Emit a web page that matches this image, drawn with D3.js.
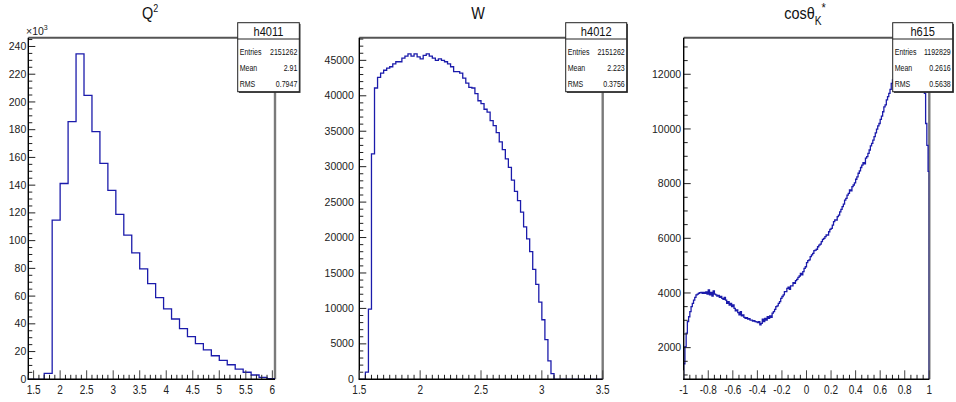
<!DOCTYPE html>
<html><head><meta charset="utf-8">
<script src="https://cdn.jsdelivr.net/npm/d3@7"></script>
<style>body{margin:0;background:#fff}svg{display:block}</style>
</head><body>
<svg id="c" width="956" height="402"></svg>
<script>
// ---------- DATA ----------
// Q^2 histogram (bins of 0.15 starting at 1.4)
const q2Low = 1.4, q2BinWidth = 0.15;
const q2Counts = [0,0,4300,114800,141200,185800,234600,204800,178600,155700,136200,118900,104000,91200,79600,69000,58900,50800,43500,36500,30800,25700,21200,17000,13700,10500,7400,5100,3100,1400,400];
const q2Stats = {name:"h4011", entries:"2151262", mean:"2.91", rms:"0.7947"};

// W histogram (bins of 0.025 starting at 1.5)
const wLow = 1.5, wBinWidth = 0.025;
const wCounts = [0,0,
 1000,9900,31800,41100,42600,43200,43600,43900,44100,44500,44800,44800,45300,45600,45900,45600,45900,45500,45200,45700,
 45900,45600,45300,45000,45200,45000,44800,44500,44100,43400,43400,43200,42500,41800,41200,41100,40300,39300,38900,38100,
 37700,36500,35800,34800,33500,32400,31100,29900,28100,26500,25200,23600,21500,19800,18000,15500,13400,10900,8400,5600,
 2600,800,
 0,0,0,0,0,0,0,0,0,0,0,0,0,0,0,0];
const wStats = {name:"h4012", entries:"2151262", mean:"2.223", rms:"0.3756"};

// cos(theta_K*) histogram (bins of 0.01 starting at -1)
const cosLow = -1, cosBinWidth = 0.01;
const cosCounts = [
 1410,2040,2530,2950,3130,3320,3500,3620,3740,3840,
 3930,3960,3990,4010,4020,3990,4020,3990,4040,3960,
 4110,3930,4020,3890,4080,3960,3930,3890,3910,3840,
 3870,3800,3770,3840,3740,3620,3680,3560,3620,3500,
 3560,3440,3350,3380,3280,3200,3320,3160,3200,3110,
 3070,3100,3040,3060,3010,3010,2970,2990,2950,2940,
 2920,2950,2830,2890,3040,2950,3070,3010,3130,3070,
 3160,3110,3260,3320,3400,3500,3530,3620,3680,3800,
 3870,3930,4050,4050,4170,4210,4130,4260,4260,4380,
 4350,4450,4500,4570,4620,4720,4660,4780,4900,4960,
 5110,5180,5210,5330,5390,5450,5550,5570,5600,5690,
 5750,5790,5880,5960,6000,6060,6120,6120,6240,6330,
 6360,6480,6610,6670,6670,6790,6850,6970,7060,7160,
 7250,7400,7460,7580,7640,7770,7740,7890,7950,8030,
 8160,8250,8380,8470,8590,8680,8770,8720,8930,8990,
 9110,9230,9380,9470,9590,9720,9860,9990,10110,10200,
 10350,10470,10630,10810,10880,11060,11180,11300,11450,11670,
 11790,11900,12000,12100,12150,12200,12300,12350,12400,12450,
 12500,12550,12600,12600,12650,12700,12720,12770,12720,12700,
 12650,12600,12500,12300,12000,11700,11300,10200,9400,8450];
const cosStats = {name:"h615", entries:"1192829", mean:"0.2616", rms:"0.5638"};

// tick labels
const q2XTicks = [1.5,2,2.5,3,3.5,4,4.5,5,5.5,6];
const wXTicks = [1.5,2,2.5,3,3.5];
const cosXTicks = [-1,-0.8,-0.6,-0.4,-0.2,0,0.2,0.4,0.6,0.8,1];

// ---------- DRAWING ----------
const svg = d3.select("#c");
const SANS = "'Liberation Sans',Arial,Helvetica,sans-serif";
const LINE = "#1b1bab";

function fmt(v){ return String(+v.toFixed(3)); }
// condensed text helper (horizontal squeeze like Helvetica-Narrow)
function ntext(g, x, y, str, size, anchor, sx, fill){
  return g.append("text")
    .attr("transform", `translate(${x},${y}) scale(${sx},1)`)
    .attr("text-anchor", anchor || "start")
    .attr("font-family", SANS).attr("font-size", size)
    .attr("fill", fill || "#222").text(str);
}

const panels = [
 {id:0, counts:q2Counts, low:q2Low, bw:q2BinWidth, xDomain:[1.4,6.05], xTicks:q2XTicks, xMinor:0.1,
  yMajor:20000, yMinor:5000, yLabel:v=>fmt(v/1000), yMode:"zero",
  L:28.3, R:275, T:37.7, B:379.3, yGap:2, stats:q2Stats, box:[237.7,22.7,61.6,69], title:"Q2", tx:150},
 {id:1, counts:wCounts, low:wLow, bw:wBinWidth, xDomain:[1.5,3.5], xTicks:wXTicks, xMinor:0.05,
  yMajor:5000, yMinor:1000, yLabel:v=>fmt(v), yMode:"zero",
  L:359.3, R:602.7, T:37.7, B:379.3, yGap:5.5, stats:wStats, box:[565.7,22.7,61,69], title:"W", tx:478},
 {id:2, counts:cosCounts, low:cosLow, bw:cosBinWidth, xDomain:[-1,1], xTicks:cosXTicks, xMinor:0.05,
  yMajor:2000, yMinor:500, yLabel:v=>fmt(v), yMode:"range",
  L:683.7, R:929.3, T:37.7, B:379.3, yGap:2.5, stats:cosStats, box:[892.7,22.7,60,69], title:"cos", tx:805}
];

panels.forEach(p => {
  const g = svg.append("g");
  const x = d3.scaleLinear().domain(p.xDomain).range([p.L, p.R]);
  const mx = d3.max(p.counts), mn = d3.min(p.counts);
  let yd;
  if (p.yMode === "zero") yd = [0, mx*1.05];
  else { const r = mx - mn; yd = [mn - 0.05*r, mx + 0.05*r]; }
  const y = d3.scaleLinear().domain(yd).range([p.B, p.T]);

  // frame top & right
  g.append("line").attr("x1",p.L).attr("x2",p.R).attr("y1",p.T).attr("y2",p.T)
    .attr("stroke","#555").attr("stroke-width",2);
  g.append("line").attr("x1",p.R).attr("x2",p.R).attr("y1",p.T).attr("y2",p.B)
    .attr("stroke","#7a7a7a").attr("stroke-width",2.4);

  // histogram
  const cid = "clip"+p.id;
  svg.append("clipPath").attr("id",cid).append("rect")
    .attr("x",p.L).attr("y",p.T).attr("width",p.R-p.L).attr("height",p.B-p.T);
  const pts = [];
  const base = Math.max(0, yd[0]);
  pts.push([x(p.low), y(base)]);
  p.counts.forEach((c,i) => {
    const a = p.low + i*p.bw, b = p.low + (i+1)*p.bw;
    pts.push([x(a), y(c)]); pts.push([x(b), y(c)]);
  });
  pts.push([x(p.low + p.counts.length*p.bw), y(base)]);
  g.append("path").attr("clip-path",`url(#${cid})`)
    .attr("d", d3.line()(pts)).attr("fill","none")
    .attr("stroke",LINE).attr("stroke-width",1.3).attr("stroke-linejoin","miter");

  // y axis
  const yMinT = d3.range(Math.ceil(yd[0]/p.yMinor-1e-9)*p.yMinor, yd[1]+1e-6, p.yMinor);
  yMinT.forEach(v => {
    const major = Math.abs(v/p.yMajor - Math.round(v/p.yMajor)) < 1e-6;
    g.append("line").attr("x1",p.L).attr("x2",p.L+(major?7:4))
      .attr("y1",y(v)).attr("y2",y(v)).attr("stroke","#222").attr("stroke-width",1);
    if (major) g.append("text").attr("x",p.L-p.yGap).attr("y",y(v)+3.6)
      .attr("text-anchor","end").attr("font-family",SANS).attr("font-size",10.5)
      .attr("fill","#222").text(p.yLabel(v));
  });
  g.append("line").attr("x1",p.L).attr("x2",p.L).attr("y1",p.T).attr("y2",p.B+0.5)
    .attr("stroke","#000").attr("stroke-width",1.4);

  // x axis
  const xMinT = d3.range(Math.ceil(p.xDomain[0]/p.xMinor-1e-9)*p.xMinor, p.xDomain[1]+1e-9, p.xMinor);
  xMinT.forEach(v => {
    const major = p.xTicks.some(t => Math.abs(t-v) < 1e-6);
    g.append("line").attr("x1",x(v)).attr("x2",x(v)).attr("y1",p.B).attr("y2",p.B-(major?9:4.5))
      .attr("stroke", major?"#444":"#222").attr("stroke-width",1);
  });
  p.xTicks.forEach(v => {
    ntext(g, x(v), 393.5, fmt(v), 12.5, "middle", 0.8);
  });
  g.append("line").attr("x1",p.L-0.5).attr("x2",p.R).attr("y1",p.B).attr("y2",p.B)
    .attr("stroke","#000").attr("stroke-width",1.4);

  // title
  const t = g.append("text")
    .attr("transform",`translate(${p.tx},18.5) scale(0.85,1)`)
    .attr("text-anchor","middle")
    .attr("font-family",SANS).attr("font-size",17).attr("fill","#111");
  if (p.title === "Q2") {
    t.append("tspan").text("Q");
    t.append("tspan").attr("dy",-7).attr("font-size",10.5).text("2");
  } else if (p.title === "W") {
    t.text("W");
  } else {
    t.append("tspan").text("cos\u03B8");
    t.append("tspan").attr("dy",6).attr("font-size",12).text("K");
    t.append("tspan").attr("dy",-13).attr("font-size",13).text("*");
  }

  // stats box
  const [bx,by,bw,bh] = p.box;
  g.append("rect").attr("x",bx+1.2).attr("y",by+1.2).attr("width",bw).attr("height",bh).attr("fill","#333");
  g.append("rect").attr("x",bx).attr("y",by).attr("width",bw).attr("height",bh)
    .attr("fill","#fff").attr("stroke","#222").attr("stroke-width",1);
  g.append("line").attr("x1",bx).attr("x2",bx+bw).attr("y1",by+16.3).attr("y2",by+16.3)
    .attr("stroke","#222").attr("stroke-width",1);
  ntext(g, bx+bw/2, by+13, p.stats.name, 13, "middle", 0.85, "#111");
  const rows = [["Entries",p.stats.entries],["Mean",p.stats.mean],["RMS",p.stats.rms]];
  rows.forEach((r,i) => {
    const yy = by + 32 + i*16.2;
    ntext(g, bx+2, yy, r[0], 9, "start", 0.78, "#111");
    ntext(g, bx+bw-2, yy, r[1], 9, "end", 0.78, "#111");
  });

  // x10^3 multiplier for Q2
  if (p.id === 0) {
    const m = g.append("text").attr("x",26).attr("y",35).attr("font-family",SANS)
      .attr("font-size",10.5).attr("fill","#222");
    m.append("tspan").text("\u00D710");
    m.append("tspan").attr("dy",-5).attr("font-size",7).text("3");
  }
});
</script>
</body></html>
